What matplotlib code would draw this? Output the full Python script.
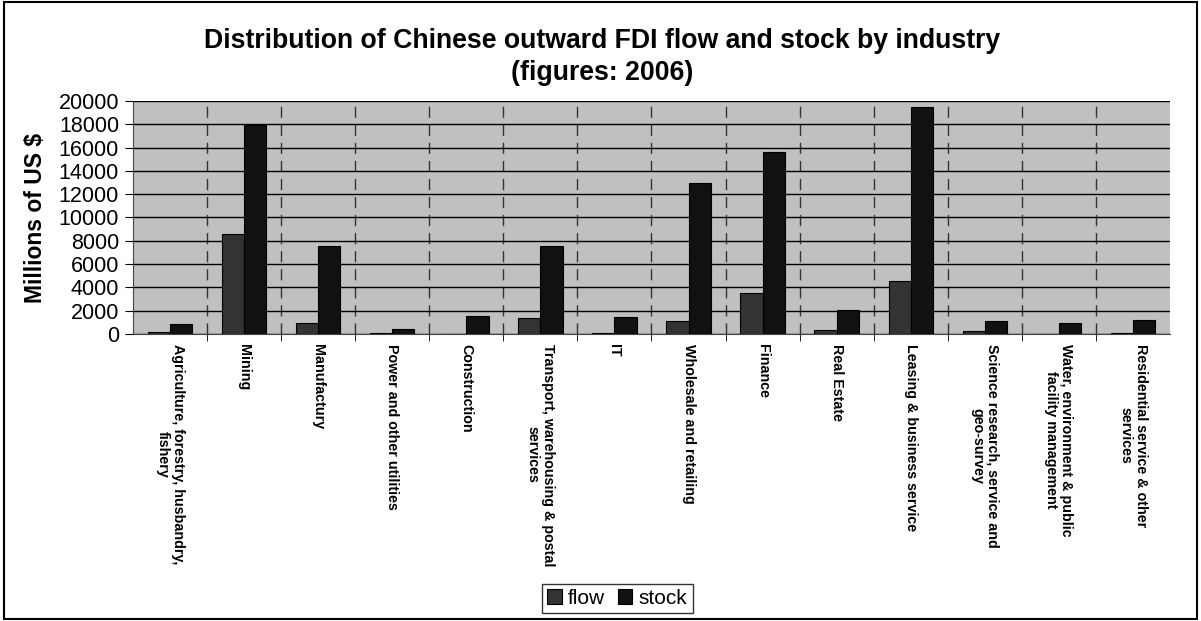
import numpy as np
import matplotlib
matplotlib.use("Agg")
import matplotlib.pyplot as plt
from matplotlib.patches import Rectangle

plt.rcParams['font.family'] = ['Liberation Sans', 'DejaVu Sans']

industries = [
    "Agriculture, forestry, husbandry,\nfishery",
    "Mining",
    "Manufactury",
    "Power and other utilities",
    "Construction",
    "Transport, warehousing & postal\nservices",
    "IT",
    "Wholesale and retailing",
    "Finance",
    "Real Estate",
    "Leasing & business service",
    "Science research, service and\ngeo-survey",
    "Water, environment & public\nfacility management",
    "Residential service & other\nservices",
]
# millions of US $, 2006
flow = [185, 8540, 907, 119, 33, 1380, 48, 1110, 3530, 384, 4520, 282, 8, 111]
stock = [817, 17900, 7530, 446, 1570, 7570, 1450, 12960, 15600, 2020, 19460, 1120, 910, 1160]

fig = plt.figure(figsize=(12.01, 6.21), dpi=100)
ax = fig.add_axes([0.1107, 0.4622, 0.8635, 0.3752])
ax.set_facecolor('#c0c0c0')

x = np.arange(len(industries))
w = 0.3
ax.bar(x - w / 2, flow, w, color='#333333', edgecolor='black', linewidth=0.8, label='flow', zorder=3)
ax.bar(x + w / 2, stock, w, color='#111111', edgecolor='black', linewidth=0.8, label='stock', zorder=3)

ax.set_xlim(-0.5, len(industries) - 0.5)
ax.set_ylim(0, 20000)
ax.set_yticks(np.arange(0, 20001, 2000))
ax.yaxis.grid(True, color='black', linewidth=1.0, zorder=1)
for b in x[:-1] + 0.5:
    ax.axvline(b, color='#333333', linewidth=1.0, dashes=(8, 5), zorder=1)

ax.set_xticks(x[:-1] + 0.5, minor=True)
ax.set_xticks(x)
ax.set_xticklabels(industries, rotation=270, fontsize=10.3, fontweight='bold',
                   ha='center', va='top', multialignment='center', linespacing=1.1)
ax.tick_params(axis='x', which='major', length=0, pad=7)
ax.tick_params(axis='x', which='minor', length=5, direction='out')
ax.tick_params(axis='y', labelsize=15.5, length=6, direction='out', pad=4)

for side in ['top', 'right']:
    ax.spines[side].set_visible(False)
ax.spines['left'].set_color('#444444')
ax.spines['bottom'].set_color('#444444')

ax.set_ylabel('Millions of US $', fontsize=16.5, fontweight='bold', labelpad=8)

fig.text(0.501, 0.955, 'Distribution of Chinese outward FDI flow and stock by industry\n(figures: 2006)',
         fontsize=19.2, fontweight='bold', ha='center', va='top', linespacing=1.28)

leg = fig.legend(loc='lower center', bbox_to_anchor=(0.514, 0.013), ncol=2, fontsize=15,
                 frameon=True, fancybox=False, handlelength=0.7, handleheight=0.7,
                 handletextpad=0.3, columnspacing=0.6, borderpad=0.25, borderaxespad=0)
leg.get_frame().set_edgecolor('black')
leg.get_frame().set_linewidth(1.0)

fig.patches.append(Rectangle((0.003, 0.003), 0.994, 0.994, transform=fig.transFigure,
                             fill=False, edgecolor='black', linewidth=1.5))

fig.savefig('out.png', dpi=100)
